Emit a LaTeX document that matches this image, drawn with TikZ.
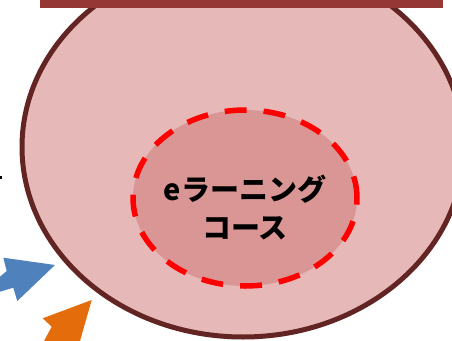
\documentclass[tikz,border=0pt]{standalone}
\usepackage{fontspec}
\newfontfamily\cjk{Noto Sans CJK JP}
\usetikzlibrary{shapes.geometric}
\definecolor{outerfill}{HTML}{E6B8B7}
\definecolor{outerline}{HTML}{632523}
\definecolor{innerfill}{HTML}{D99694}
\definecolor{barcol}{HTML}{953735}
\definecolor{bluearrow}{HTML}{4F81BD}
\definecolor{orangearrow}{HTML}{E46C0A}
\tikzset{
  outerell/.style={ellipse, draw=outerline, fill=outerfill, line width=5pt, minimum width=442pt, minimum height=380pt, inner sep=0pt},
  innerell/.style={ellipse, draw=red, fill=innerfill, line width=5.5pt, dash pattern=on 22pt off 17pt, minimum width=224pt, minimum height=176pt, inner sep=0pt},
  labeltext/.style={align=center, inner sep=0pt, font=\cjk\bfseries\fontsize{29}{38}\selectfont}
}
\begin{document}
\begin{tikzpicture}[x=1pt,y=-1pt]
\useasboundingbox (0,0) rectangle (452,340);
\begin{scope}
\clip (0,0) rectangle (452,340);
\node[outerell] (outer) at (243,147) {};
\fill[barcol] (40,0) rectangle (443,7.5);
\node[innerell] (inner) at (245,198) {};
\node[labeltext] (label) at ([yshift=-10pt]inner.center) {eラーニング\\コース};
\fill[bluearrow] (0,276.7) -- (6.7,271) -- (3.3,257.7) -- (55,265) -- (17.3,301) -- (13.3,287.7) -- (0,291.7) -- cycle;
\fill[orangearrow] (44,341) -- (51.7,326.7) -- (42.7,318.3) -- (91.7,300) -- (80,341) -- cycle;
\fill[black] (0,176) rectangle (2,179);
\end{scope}
\end{tikzpicture}
\end{document}
